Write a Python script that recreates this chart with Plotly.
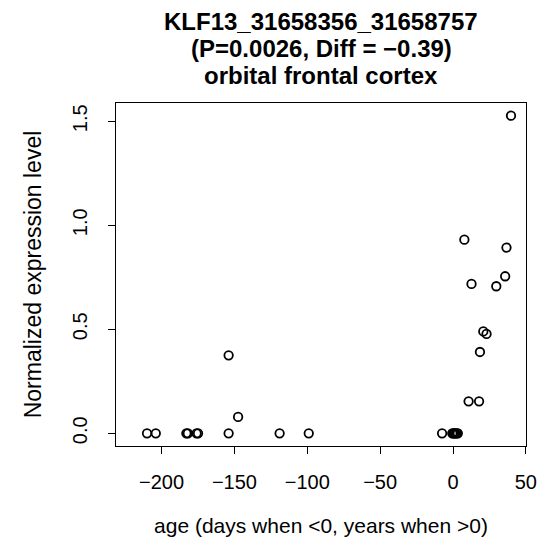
import plotly.graph_objects as go

# --------------------------------
# Data
# --------------------------------
AGE = [
    -210, -204, -183, -182, -176, -175, -154, -119, -99,
    -154, -147.5,
    -7.5, -0.5, 0.3, 1.0, 1.5, 2.5, 3.3,
    39.8, 7.8, 36.7, 35.8, 29.7, 12.7, 20.8, 23.0, 18.5, 10.7, 17.9,
]
EXPR = [
    0, 0, 0, 0, 0, 0, 0, 0, 0,
    0.375, 0.079,
    0, 0, 0, 0, 0, 0, 0,
    1.527, 0.931, 0.893, 0.755, 0.707, 0.718, 0.490, 0.478, 0.391, 0.154, 0.154,
]
X_TICKS = [-200, -150, -100, -50, 0, 50]
X_TICKTEXT = ["\u2212200", "\u2212150", "\u2212100", "\u221250", "0", "50"]
Y_TICKS = [0, 0.5, 1.0, 1.5]
Y_TICKTEXT = ["0.0", "0.5", "1.0", "1.5"]
TITLE_LINES = [
    "KLF13_31658356_31658757",
    "(P=0.0026, Diff = \u22120.39)",
    "orbital frontal cortex",
]

FONT = "Liberation Sans, Arial, Helvetica, sans-serif"
# the page body has an 8px default margin, so the figure is a bit smaller
W, H = 541, 547
M = dict(l=108, r=14, t=95, b=109)
PLOT_H = H - M["t"] - M["b"]

fig = go.Figure()
fig.add_trace(go.Scatter(
    x=AGE, y=EXPR, mode="markers",
    marker=dict(symbol="circle-open", size=8.5, color="black",
                line=dict(width=1.8, color="black")),
    showlegend=False,
))

axis_common = dict(
    showline=True, mirror=True, linecolor="black", linewidth=1.4,
    ticks="outside", ticklen=7, tickwidth=1.4, tickcolor="black",
    showgrid=False, zeroline=False,
    tickfont=dict(family=FONT, size=20, color="black"),
)

fig.update_xaxes(
    range=[-231.3, 50.1], tickvals=X_TICKS, ticktext=X_TICKTEXT,
    ticklabelstandoff=11,
    title=dict(text="age (days when <0, years when >0)", standoff=26,
               font=dict(family=FONT, size=21, color="black")),
    **axis_common,
)
fig.update_yaxes(
    range=[-0.061, 1.588], tickvals=Y_TICKS, ticktext=Y_TICKTEXT,
    tickangle=-90, ticklabelstandoff=13,
    title=dict(text="Normalized expression level", standoff=20,
               font=dict(family=FONT, size=23, color="black")),
    **axis_common,
)

# title lines, placed one by one to match the line spacing
for line, ypx in zip(TITLE_LINES, [13.6, 40.4, 67.2]):
    fig.add_annotation(
        text=f"<b>{line}</b>", x=0.5, xref="paper",
        y=(H - M["b"] - ypx) / PLOT_H, yref="paper", yanchor="middle",
        showarrow=False, font=dict(family=FONT, size=24, color="black"),
    )

fig.update_layout(
    width=W, height=H, margin=M,
    plot_bgcolor="white", paper_bgcolor="white",
)

fig.write_html("out.html")
